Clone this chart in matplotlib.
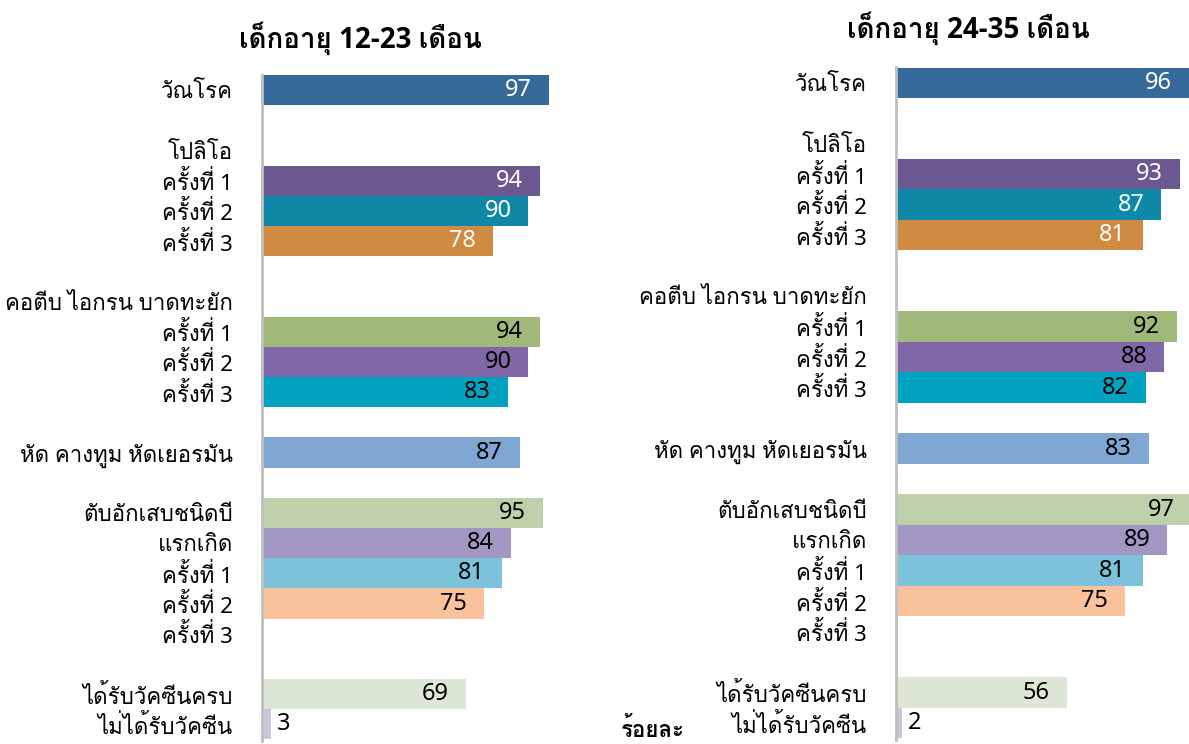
import matplotlib
matplotlib.use("Agg")
import matplotlib.pyplot as plt
import numpy as np

# ---------------- data ----------------
row_labels = ["วัณโรค", "", "โปลิโอ", "ครั้งที่ 1", "ครั้งที่ 2", "ครั้งที่ 3", "",
              "คอตีบ ไอกรน บาดทะยัก", "ครั้งที่ 1", "ครั้งที่ 2", "ครั้งที่ 3", "",
              "หัด คางทูม หัดเยอรมัน", "", "ตับอักเสบชนิดบี", "แรกเกิด", "ครั้งที่ 1",
              "ครั้งที่ 2", "ครั้งที่ 3", "", "ได้รับวัคซีนครบ", "ไม่ได้รับวัคซีน"]
nan = np.nan
values_12_23 = [97, nan, nan, 94, 90, 78, nan, nan, 94, 90, 83, nan, 87, nan,
                95, 84, 81, 75, nan, nan, 69, 3]
values_24_35 = [96, nan, nan, 93, 87, 81, nan, nan, 92, 88, 82, nan, 83, nan,
                97, 89, 81, 75, nan, nan, 56, 2]
bar_colors = ["#366A9B", None, None, "#6B5891", "#0E88A6", "#D08A42", None, None,
              "#A0B97A", "#8068A8", "#00A3BF", None, "#80A6D2", None,
              "#BED0AA", "#A296C2", "#7BC2DA", "#F9C29C", None, None,
              "#DDE7D6", "#C9C5E1"]
white_text_rows = [0, 3, 4, 5]
title_left = "เด็กอายุ 12-23 เดือน"
title_right = "เด็กอายุ 24-35 เดือน"
unit_label = "ร้อยละ"

plt.rcParams["font.family"] = ["Noto Sans", "Loma", "DejaVu Sans"]
bold_family = ["Open Sans", "Loma", "DejaVu Sans"]

W, H = 1189, 744
fig = plt.figure(figsize=(W / 100, H / 100), dpi=100)


def panel(x0, width_px, top_px, bottom_px, xmax, values, title, title_xy):
    ax = fig.add_axes([x0 / W, (H - bottom_px) / H, width_px / W, (bottom_px - top_px) / H])
    rows = np.arange(len(row_labels))
    vals = np.array(values, dtype=float)
    for r, v in zip(rows, vals):
        if np.isnan(v):
            continue
        ax.barh(r, v, height=1.0, color=bar_colors[r], edgecolor="none", zorder=1)
        if v > 10:
            ax.annotate(f"{int(v)}", xy=(v, r), xytext=(-17, 0), textcoords="offset pixels",
                        ha="right", va="center", fontsize=17, annotation_clip=False,
                        color="white" if r in white_text_rows else "black")
        else:
            ax.annotate(f"{int(v)}", xy=(v, r), xytext=(6, 0), textcoords="offset pixels",
                        ha="left", va="center", fontsize=17, color="black",
                        annotation_clip=False)
    ax.set_xlim(0, xmax)
    ax.set_ylim(len(row_labels) - 0.45, -0.5)
    lab_rows = [i for i, t in enumerate(row_labels) if t]
    ax.set_yticks(lab_rows)
    ax.set_yticklabels([row_labels[i] for i in lab_rows], fontsize=16)
    ax.tick_params(axis="y", length=0, pad=21)
    ax.set_xticks([])
    for s in ["top", "right", "bottom"]:
        ax.spines[s].set_visible(False)
    ax.spines["left"].set_color("#BFBFBF")
    ax.spines["left"].set_linewidth(2)
    ax.spines["left"].set_zorder(3)
    fig.text(title_xy[0] / W, 1 - title_xy[1] / H, title, ha="center", va="center",
             fontsize=20, fontweight="bold", family=bold_family)
    return ax


panel(262, 296, 75, 741, 100, values_12_23, title_left, (360, 38))
panel(896, 293, 67.5, 740, 293 / 3.05, values_24_35, title_right, (968, 28))
fig.text(653 / W, 1 - 730 / H, unit_label, ha="center", va="center", fontsize=16,
         fontweight="bold", family=bold_family)

fig.savefig("out.png", dpi=100)
